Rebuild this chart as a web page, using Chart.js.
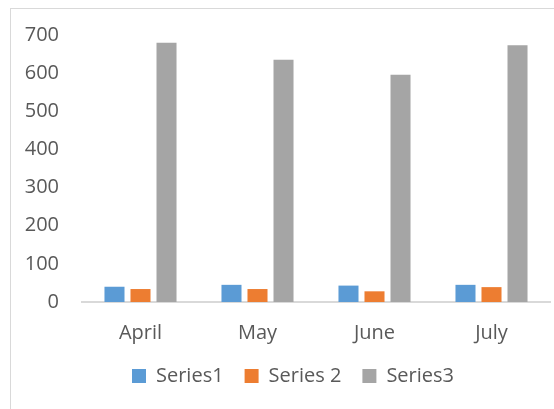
<!DOCTYPE html>
<html>
<head>
<meta charset="utf-8">
<script src="https://cdn.jsdelivr.net/npm/chart.js@4/dist/chart.umd.min.js"></script>
<style>
    html, body { margin: 0; padding: 0; background: #fff; overflow: hidden; }
    #wrap { position: relative; width: 554px; height: 409px; }
    #frame { position: absolute; left: 10px; top: 8px; width: 600px; height: 460px; border: 1.5px solid #d9d9d9; box-sizing: border-box; }
    #chart { position: absolute; left: 0; top: 0; }
</style>
</head>
<body>
<div id="wrap">
    <div id="frame"></div>
    <canvas id="chart" width="554" height="409"></canvas>
</div>
<script>
var months = ['April', 'May', 'June', 'July'];
var series1 = [40, 45, 43, 45];
var series2 = [34, 34, 28, 39];
var series3 = [680, 635, 596, 673];
var y_ticks = [0, 100, 200, 300, 400, 500, 600, 700];

var text_color = '#595959';
var font_family = '"Open Sans", "Liberation Sans", sans-serif';

var bar_chart;

// move legend toward the right, like the original
var shift_legend = {
    id: 'shift_legend',
    afterLayout: function(chart) { chart.legend.left += 36; }
};

window.addEventListener('load', function()
{
    bar_chart = new Chart(document.getElementById('chart'), {
        type: 'bar',
        data: {
            labels: months,
            datasets: [
                { label: 'Series1', data: series1, backgroundColor: '#5B9BD5' },
                { label: 'Series 2', data: series2, backgroundColor: '#ED7D31' },
                { label: 'Series3', data: series3, backgroundColor: '#A5A5A5' }
            ]
        },
        plugins: [shift_legend],
        options: {
            responsive: false,
            animation: false,
            categoryPercentage: 0.667,
            barPercentage: 0.77,
            layout: { padding: { left: 0, right: 4, top: 29, bottom: 13 } },
            plugins: {
                tooltip: { enabled: false },
                legend: {
                    position: 'bottom',
                    labels: {
                        boxWidth: 14,
                        boxHeight: 14,
                        padding: 21,
                        color: text_color,
                        font: { family: font_family, size: 20 }
                    }
                }
            },
            scales: {
                x: {
                    afterFit: function(scale) { scale.height = 43; },
                    grid: { display: false, drawTicks: false },
                    border: { display: true, color: '#d9d9d9', width: 2 },
                    ticks: { color: text_color, padding: 19, font: { family: font_family, size: 20 } }
                },
                y: {
                    min: 0,
                    max: 700,
                    afterBuildTicks: function(scale) {
                        scale.ticks = y_ticks.map(v => ({ value: v }));
                    },
                    afterFit: function(scale) { scale.width = 82; },
                    grid: { display: false, drawTicks: false },
                    border: { display: false },
                    ticks: { color: text_color, padding: 23, font: { family: font_family, size: 20 } }
                }
            }
        }
    });
});
</script>
</body>
</html>
